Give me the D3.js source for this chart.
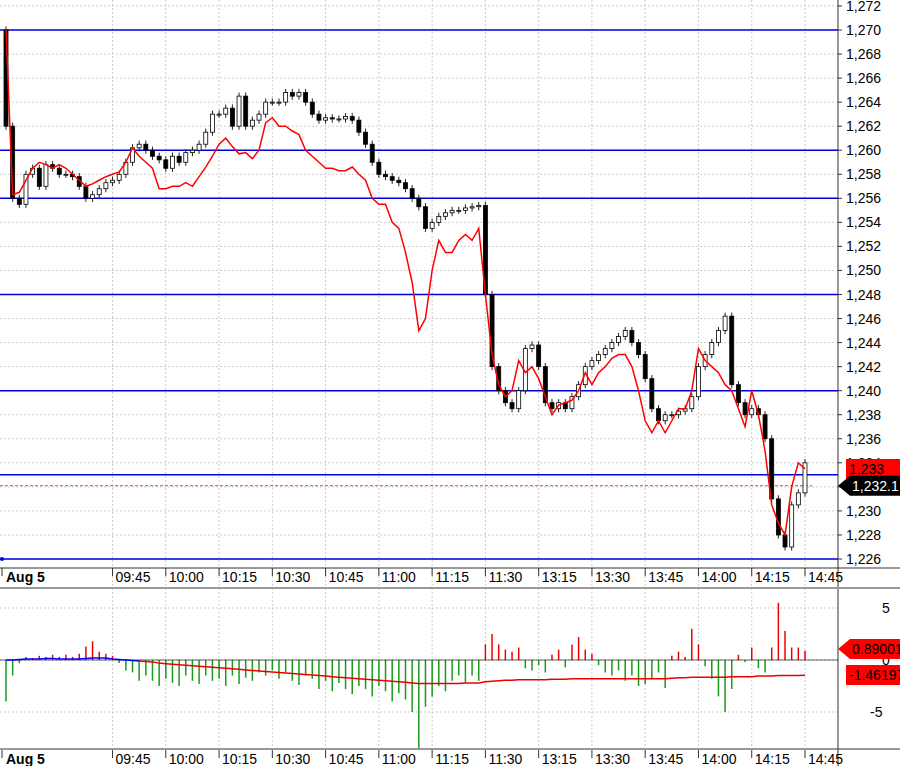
<!DOCTYPE html>
<html><head><meta charset="utf-8">
<script src="https://cdn.jsdelivr.net/npm/d3@7"></script>
<style>body{margin:0;background:#fff;font-family:Arial,"Liberation Sans",sans-serif}</style>
</head><body><div id="chart"></div>
<script>
var closes = [1262,1256,1255.5,1258,1258.5,1257,1258.8,1258.5,1258,1258,1257.8,1257,1256,1256.3,1256.8,1257.3,1257.5,1258,1259,1260.2,
  1260.5,1260,1259.5,1259.2,1258.5,1259.5,1259,1259.8,1260,1260.5,1261.5,1263,1263,1263.5,1262,1264.5,1262,1262.5,1263,1264,
  1264,1264,1264.8,1264.5,1264.8,1264,1263,1262.5,1262.7,1262.6,1262.6,1262.8,1262.5,1261.5,1260.5,1259,1258,1257.8,1257.5,1257.3,
  1256.8,1256,1255.3,1253.5,1254,1254.5,1254.8,1255,1255,1255.2,1255.3,1255.4,1248,1242,1240,1239,1238.5,1240,1243.5,1243.8,
  1242,1239,1238.5,1239,1238.5,1239.5,1240.5,1242,1242.5,1243,1243.5,1244,1244.5,1245,1244,1243,1241,1238.5,1237.5,1238,
  1238,1238.3,1238.5,1239.5,1242,1243,1244,1245,1246.2,1240.5,1239,1238,1238.5,1238,1236,1231,1228,1227,1230.5,1231.5,1234];
var firstOpen = 1270;
var avgLine = [1270,1256.3,1256.5,1257.5,1258.5,1259,1258.8,1258.5,1258.8,1258.5,1258,1257.5,1257,1257.2,1257.5,1257.8,1258,1258.2,1259,1260.2,
  1259.5,1259,1258.5,1256.8,1256.8,1257,1257,1257.3,1257,1257.8,1258.6,1259.5,1260.5,1261,1260.3,1259.7,1259.8,1259.3,1260,1262.3,
  1262.7,1262,1262,1261.6,1261.3,1260,1259.5,1259,1258.5,1258.5,1258.3,1258.3,1258.6,1258,1257.5,1256,1255.5,1255.5,1254,1253.5,
  1251.5,1249,1245,1246,1250,1252.5,1251.5,1251.5,1252.5,1253,1252.5,1253.5,1248,1243,1240.5,1239.5,1240,1242.5,1241.5,1242,
  1241,1239.5,1238,1238.8,1239,1239.2,1240,1241.5,1240.5,1241.5,1242,1242.7,1243,1243,1242,1240,1237.5,1236.5,1237.5,1236.5,
  1237.5,1238.5,1238.5,1240,1243.5,1242.5,1242,1241.5,1240.5,1240,1238.5,1237,1240,1238,1235,1230.5,1229,1228,1232,1234,1233.5];
var hist = [-4,-1.5,-0.3,0.3,0.2,0.4,0.3,0.5,0.3,0.5,0.3,0.6,1.3,1.8,0.8,0.6,0.4,-0.3,-1,-1.2,
  -2,-1.5,-2,-2.5,-1.8,-2.2,-2.5,-1.5,-2,-2.3,-1.5,-2,-1.8,-2.5,-1.5,-2.3,-1.7,-2,-1.2,-1.5,
  -1,-1.8,-1.2,-2,-2.4,-1.5,-1.8,-2.8,-2,-3,-2.2,-2.8,-3.3,-2.5,-2.8,-3.5,-2.5,-3,-4,-3.2,
  -3.8,-5,-8.5,-4.5,-3.5,-2.5,-3,-2,-1.5,-2.2,-1.5,-2,1.5,2.5,1.5,1,0.8,1.2,-0.8,-1,
  -0.5,-1.2,0.5,1,-0.7,1.5,2.2,1,0.6,-0.5,-1.2,-1.5,-1,-2,-1.5,-2.5,-2.3,-1.8,-1.2,-2.7,
  0.4,0.8,0.3,3,1.5,-0.6,-1.8,-3.5,-5,-2.8,0.5,-0.2,1.2,-0.8,-1.2,1.2,5.5,2.8,1.2,1.2,0.89];
var signal = [0,0,0.05,0.1,0.1,0.1,0.15,0.15,0.1,0.1,0.1,0.1,0.15,0.2,0.2,0.2,0.1,0.05,0,-0.05,
  -0.1,-0.15,-0.2,-0.3,-0.35,-0.4,-0.45,-0.5,-0.55,-0.6,-0.65,-0.7,-0.75,-0.8,-0.85,-0.9,-0.95,-1,-1.05,-1.1,
  -1.15,-1.2,-1.25,-1.3,-1.35,-1.4,-1.45,-1.5,-1.55,-1.6,-1.65,-1.7,-1.75,-1.8,-1.85,-1.9,-1.95,-2,-2.05,-2.1,
  -2.15,-2.2,-2.25,-2.25,-2.25,-2.25,-2.25,-2.25,-2.25,-2.2,-2.2,-2.2,-2.1,-2.05,-2,-1.95,-1.95,-1.9,-1.9,-1.9,
  -1.9,-1.9,-1.85,-1.85,-1.85,-1.8,-1.8,-1.8,-1.8,-1.8,-1.8,-1.8,-1.8,-1.8,-1.8,-1.8,-1.8,-1.8,-1.8,-1.8,
  -1.75,-1.7,-1.7,-1.65,-1.65,-1.65,-1.65,-1.65,-1.65,-1.6,-1.6,-1.6,-1.6,-1.55,-1.55,-1.55,-1.5,-1.5,-1.5,-1.48,-1.46];
var levels = [1270,1260,1256,1248,1240,1233,1226];
var tickIdx = [16,24,32,40,48,56,64,72,80,88,96,104,112,120];
var tickLabels = ['09:45','10:00','10:15','10:30','10:45','11:00','11:15','11:30','13:15','13:30','13:45','14:00','14:15','14:45'];
var priceTicks = d3.range(1226, 1273, 2);
var lastPrice = 1232.1, lastAvg = 1233, lastHist = '0.89001', lastSignal = '-1.46197';

var W = 900, H = 766, plotR = 838;
var svg = d3.select('#chart').append('svg').attr('width', W).attr('height', H);
var x = d3.scaleLinear().domain([0, 120]).range([6, 805]);
var y = d3.scaleLinear().domain([1226, 1270]).range([559, 30]);
var y2 = d3.scaleLinear().domain([-5, 5]).range([712, 608]);
var fmt = d3.format(',');

// grid
var g = svg.append('g').attr('stroke', '#ccc').attr('stroke-dasharray', '2,2');
g.selectAll('.hy').data(priceTicks).enter().append('line')
  .attr('x1', 0).attr('x2', plotR).attr('y1', function(d){return y(d);}).attr('y2', function(d){return y(d);});
g.selectAll('.hy2').data([-5,0,5]).enter().append('line')
  .attr('x1', 0).attr('x2', plotR).attr('y1', function(d){return y2(d);}).attr('y2', function(d){return y2(d);});
g.selectAll('.vx').data(tickIdx).enter().append('line')
  .attr('x1', function(d){return x(d);}).attr('x2', function(d){return x(d);}).attr('y1', 0).attr('y2', 748);

// frame
svg.append('line').attr('x1', plotR).attr('x2', plotR).attr('y1', 0).attr('y2', H).attr('stroke', '#333');
svg.append('line').attr('x1', 0).attr('x2', W).attr('y1', 568).attr('y2', 568).attr('stroke', '#333');
svg.append('line').attr('x1', 0).attr('x2', W).attr('y1', 588).attr('y2', 588).attr('stroke', '#999').attr('stroke-width', 2);
svg.append('line').attr('x1', 0).attr('x2', W).attr('y1', 749).attr('y2', 749).attr('stroke', '#333');

// levels
svg.selectAll('.lvl').data(levels).enter().append('line')
  .attr('x1', 0).attr('x2', plotR).attr('y1', function(d){return y(d);}).attr('y2', function(d){return y(d);})
  .attr('stroke', '#0000e0').attr('stroke-width', 1.5);
svg.append('circle').attr('cx', 2).attr('cy', y(1226)).attr('r', 2).attr('fill', '#0000e0');
svg.append('line').attr('x1', 0).attr('x2', 812).attr('y1', y(lastPrice)).attr('y2', y(lastPrice))
  .attr('stroke', '#f44').attr('stroke-dasharray', '3,2');

// candles
var candles = closes.map(function(c, i){
  var o = i === 0 ? firstOpen : closes[i-1];
  return {i: i, o: o, c: c, h: Math.max(o, c) + 0.3, l: Math.min(o, c) - 0.3};
});
var cg = svg.append('g');
cg.selectAll('.wick').data(candles).enter().append('line')
  .attr('x1', function(d){return x(d.i);}).attr('x2', function(d){return x(d.i);})
  .attr('y1', function(d){return y(d.h);}).attr('y2', function(d){return y(d.l);}).attr('stroke', '#222');
cg.selectAll('.body').data(candles).enter().append('rect')
  .attr('x', function(d){return x(d.i) - 2;}).attr('width', 4)
  .attr('y', function(d){return y(Math.max(d.o, d.c));})
  .attr('height', function(d){return Math.max(1, Math.abs(y(d.o) - y(d.c)));})
  .attr('fill', function(d){return d.c < d.o ? '#000' : '#fff';}).attr('stroke', '#000').attr('stroke-width', 0.8);

svg.append('path').datum(avgLine)
  .attr('d', d3.line().x(function(d, i){return x(i);}).y(function(d){return y(d);}))
  .attr('fill', 'none').attr('stroke', '#f00').attr('stroke-width', 1.5);

// histogram
svg.selectAll('.hb').data(hist).enter().append('line')
  .attr('x1', function(d, i){return x(i);}).attr('x2', function(d, i){return x(i);})
  .attr('y1', y2(0)).attr('y2', function(d){return y2(d);})
  .attr('stroke', function(d){return d >= 0 ? '#e00' : '#1a9a1a';}).attr('stroke-width', 1.5);
svg.append('line').attr('x1', 0).attr('x2', plotR).attr('y1', y2(0)).attr('y2', y2(0)).attr('stroke', '#000').attr('stroke-width', 0.6);
var sl = d3.line().x(function(d){return x(d.i);}).y(function(d){return y2(d.v);});
var sig = signal.map(function(v, i){return {i: i, v: v};});
svg.append('path').datum(sig.slice(0, 21)).attr('d', sl).attr('fill', 'none').attr('stroke', '#00f').attr('stroke-width', 1.5);
svg.append('path').datum(sig.slice(20)).attr('d', sl).attr('fill', 'none').attr('stroke', '#e00').attr('stroke-width', 1.5);

// price axis
svg.selectAll('.pl').data(priceTicks).enter().append('text')
  .attr('x', 846).attr('y', function(d){return y(d) + 5;}).attr('font-size', 14).text(function(d){return fmt(d);});
svg.selectAll('.pt').data(priceTicks).enter().append('line')
  .attr('x1', plotR).attr('x2', plotR + 4).attr('y1', function(d){return y(d);}).attr('y2', function(d){return y(d);}).attr('stroke', '#333');
[[5,'5'],[0,'0'],[-5,'-5']].forEach(function(t){
  svg.append('text').attr('x', t[0] < 0 ? 870 : 882).attr('y', y2(t[0]) + 5).attr('font-size', 14).text(t[1]);
});

function tag(yy, txt, fill, arrow){
  var p = arrow ? 'M838,' + yy + 'L850,' + (yy-10) + 'L900,' + (yy-10) + 'L900,' + (yy+10) + 'L850,' + (yy+10) + 'Z'
                : 'M846,' + (yy-10) + 'L900,' + (yy-10) + 'L900,' + (yy+10) + 'L846,' + (yy+10) + 'Z';
  svg.append('path').attr('d', p).attr('fill', fill);
  svg.append('text').attr('x', arrow ? 852 : 849).attr('y', yy + 5).attr('font-size', 14)
    .attr('fill', fill === '#000' ? '#fff' : '#000').text(txt);
}
tag(469, fmt(lastAvg), '#f00', false);
tag(y(lastPrice), '1,232.1', '#000', true);
tag(649, lastHist, '#f00', true);
tag(675, lastSignal, '#f00', false);

// time axes
[578, 760].forEach(function(ty){
  svg.append('text').attr('x', 6).attr('y', ty + 4).attr('font-size', 14).attr('font-weight', 'bold').text('Aug 5');
  svg.append('line').attr('x1', 2).attr('x2', 2).attr('y1', ty - 10).attr('y2', ty - 2).attr('stroke', '#333');
  svg.selectAll(null).data(tickIdx).enter().append('line')
    .attr('x1', function(d){return x(d);}).attr('x2', function(d){return x(d);})
    .attr('y1', ty - 10).attr('y2', ty - 2).attr('stroke', '#333');
  svg.selectAll(null).data(tickLabels).enter().append('text')
    .attr('x', function(d, i){return x(tickIdx[i]) + 3;}).attr('y', ty + 4).attr('font-size', 14).text(function(d){return d;});
});
</script></body></html>
